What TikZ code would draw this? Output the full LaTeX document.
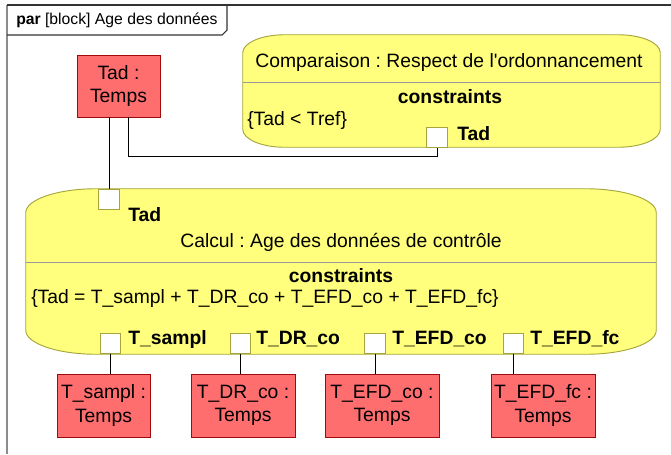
\documentclass[tikz,border=0pt]{standalone}
\usepackage{fontspec}
\setmainfont{Liberation Sans}[Ligatures=TeXOff]
\definecolor{blockyellow}{RGB}{255,255,125}
\definecolor{blockedge}{RGB}{165,165,60}
\definecolor{partred}{RGB}{255,110,110}
\definecolor{partedge}{RGB}{160,10,10}
\frenchspacing

\begin{document}
\begin{tikzpicture}
[x=0.75pt,y=-0.75pt,
  framedecorate/.style={draw=black!80,line width=0.8pt},
  blockdecorate/.style={draw=blockedge,fill=blockyellow,line width=0.7pt},
  sepdecorate/.style={draw=black!40,line width=0.7pt},
  partdecorate/.style={draw=partedge,fill=partred,align=center,inner sep=0pt,line width=0.7pt,
    font=\fontsize{14.5}{17.5}\selectfont},
  portdecorate/.style={draw=blockedge,fill=white,minimum size=15.5pt,inner sep=0pt,line width=0.7pt},
  labeldecorate/.style={anchor=west,inner sep=0pt,font=\fontsize{14.5}{17}\selectfont\bfseries},
  textdecorate/.style={inner sep=0pt,font=\fontsize{14.5}{17}\selectfont},
  linedecorate/.style={-,line width=0.75pt}]
\useasboundingbox (0,0) rectangle (671,454);
%% frame and its tab
\draw[framedecorate,draw=black!45] (7,5) -- (7,454);
\draw[framedecorate] (7,5) -- (671,5);
\draw[framedecorate] (7,35) -- (222,35) -- (227,30) -- (227,5);
\node (tab) at (16,20) [anchor=west,inner sep=0pt,font=\fontsize{11.8}{14}\selectfont]
  {\textbf{par} [block] Age des données};
%% constraint blocks (outline drawn with elliptic corners)
\node (cmp) at (451.5,91) [minimum width=312.75pt,minimum height=84pt] {};
\node (calc) at (341,271.5) [minimum width=472.5pt,minimum height=123.75pt] {};
\foreach \blockname/\rx/\ry in {cmp/31.5pt/13.5pt, calc/53pt/18pt}
{
  \draw[blockdecorate] ([yshift=-\ry]\blockname.north west)
    arc[start angle=180,end angle=90,x radius=\rx,y radius=\ry]
    -- ([xshift=-\rx]\blockname.north east)
    arc[start angle=90,end angle=0,x radius=\rx,y radius=\ry]
    -- ([yshift=\ry]\blockname.south east)
    arc[start angle=0,end angle=-90,x radius=\rx,y radius=\ry]
    -- ([xshift=\rx]\blockname.south west)
    arc[start angle=270,end angle=180,x radius=\rx,y radius=\ry] -- cycle;
}
\draw[sepdecorate] (cmp.west |- 0,82) -- (cmp.east |- 0,82);
\draw[sepdecorate] (calc.west |- 0,262) -- (calc.east |- 0,262);
\node (cmptitle) at (449,62) [textdecorate] {Comparaison : Respect de l'ordonnancement};
\node (cmpcons) at (450,97) [textdecorate,font=\fontsize{14.5}{17}\selectfont\bfseries] {constraints};
\node (cmprule) at (247,120) [textdecorate,anchor=west] {\{Tad < Tref\}};
\node (calctitle) at (341,242) [textdecorate] {Calcul : Age des données de contrôle};
\node (calccons) at (341,276) [textdecorate,font=\fontsize{14.5}{17}\selectfont\bfseries] {constraints};
\node (calcrule) at (31,298) [textdecorate,anchor=west]
  {\{Tad = T\_sampl + T\_DR\_co + T\_EFD\_co + T\_EFD\_fc\}};
%% ports and their labels
\foreach \portname/\x/\y/\lx/\ly/\portlabel in {cmpP/437/137.5/457/134/Tad,
  tadP/109/199.5/128/215/Tad, sP/110.5/343.5/128/339/T\_sampl,
  drP/240.5/343.5/256/339/T\_DR\_co, coP/375/343.5/392/339/T\_EFD\_co,
  fcP/513.5/343.5/530/339/T\_EFD\_fc}
{
  \node (\portname) at (\x,\y) [portdecorate] {};
  \node (\portname L) at (\lx,\ly) [labeldecorate] {\portlabel};
}
%% value parts
\node (tadB) at (118.5,86) [partdecorate,minimum width=62.25pt,minimum height=46.5pt] {Tad :\\Temps};
\foreach \partname/\x/\w/\partlabel in {sB/103.5/69.75/T\_sampl :, drB/243/78/T\_DR\_co :,
  coB/382/85.5/T\_EFD\_co :, fcB/543/78/T\_EFD\_fc :}
{
  \node (\partname) at (\x,405.5) [partdecorate,minimum width=\w pt,minimum height=47.25pt]
    {\partlabel\\Temps};
}
%% bindings
\coordinate (bend) at (128,156);
\draw[linedecorate] (cmpP.south) |- (bend) -- (bend |- tadB.south);
\draw[linedecorate] (tadP.north) -- (tadP.north |- tadB.south);
\foreach \startnode/\endnode in {sP/sB, drP/drB, coP/coB, fcP/fcB}
{
  \draw[linedecorate] (\startnode.south) -- (\startnode.south |- \endnode.north);
}
\end{tikzpicture}
\end{document}
